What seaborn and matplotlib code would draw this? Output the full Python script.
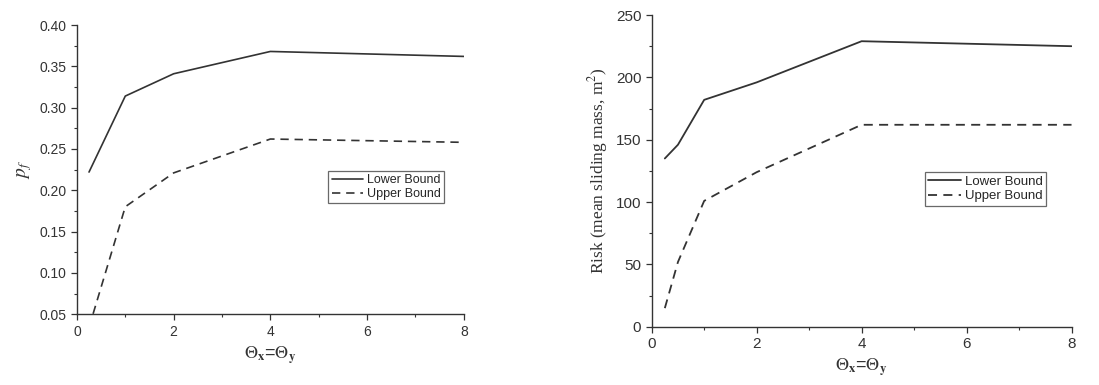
import matplotlib.pyplot as plt
import pandas as pd
import seaborn as sns
from matplotlib.ticker import MultipleLocator

# left panel: probability of failure
pf_x = [0.25, 1, 2, 4, 8]
pf_lower = [0.222, 0.314, 0.341, 0.368, 0.362]
pf_upper_x = [0.25, 1, 2, 4, 8]
pf_upper = [0.034, 0.180, 0.221, 0.262, 0.258]

# right panel: risk (mean sliding mass)
risk_x = [0.25, 0.5, 1, 2, 4, 8]
risk_lower = [135, 146, 182, 196, 229, 225]
risk_upper = [15, 52, 101, 124, 162, 162]

labels = ["Lower Bound", "Upper Bound"]

sns.set_theme(style="ticks")
plt.rcParams.update(
    {
        "font.family": ["Liberation Sans", "DejaVu Sans"],
        "mathtext.fontset": "stix",
        "axes.edgecolor": "#333333",
        "xtick.color": "#333333",
        "ytick.color": "#333333",
        "axes.linewidth": 1.0,
    }
)


def long_frame(x_lo, y_lo, x_up, y_up):
    return pd.DataFrame(
        {
            "x": list(x_lo) + list(x_up),
            "y": list(y_lo) + list(y_up),
            "bound": [labels[0]] * len(x_lo) + [labels[1]] * len(x_up),
        }
    )


def style_axes(ax, xlabel, ylabel, ylabel_kw, tick_size, leg_size):
    sns.despine(ax=ax)
    ax.set_xlim(0, 8)
    ax.xaxis.set_major_locator(MultipleLocator(2))
    ax.xaxis.set_minor_locator(MultipleLocator(1))
    ax.tick_params(which="major", length=4, width=0.9, labelsize=tick_size)
    ax.tick_params(which="minor", length=2.5, width=0.8)
    ax.set_xlabel(xlabel, fontsize=13, color="#333333")
    ax.set_ylabel(ylabel, color="#333333", **ylabel_kw)
    leg = ax.legend(
        loc="upper left",
        bbox_to_anchor=(0.65, 0.495),
        fontsize=leg_size,
        frameon=True,
        fancybox=False,
        edgecolor="#444444",
        borderpad=0.25,
        handlelength=2.5,
        handletextpad=0.3,
        labelspacing=0.15,
        borderaxespad=0,
    )
    leg.get_frame().set_linewidth(0.9)


fig = plt.figure(figsize=(10.99, 3.85), dpi=100)
ax1 = fig.add_axes([0.070, 0.184, 0.352, 0.751])
ax2 = fig.add_axes([0.593, 0.151, 0.382, 0.810])

dash_map = {labels[0]: "", labels[1]: (5, 3.5)}
theta_label = r"$\Theta_\mathbf{x}$=$\Theta_\mathbf{y}$"

df1 = long_frame(pf_x, pf_lower, pf_upper_x, pf_upper)
sns.lineplot(
    data=df1, x="x", y="y", style="bound", color="#333333",
    dashes=dash_map, linewidth=1.2, ax=ax1,
)
ax1.set_ylim(0.05, 0.40)
ax1.yaxis.set_major_locator(MultipleLocator(0.05))
ax1.yaxis.set_minor_locator(MultipleLocator(0.025))
ax1.yaxis.set_major_formatter(lambda v, p: f"{v:.2f}")
style_axes(ax1, theta_label, r"$p_f$", {"fontsize": 14}, 10, 9)

df2 = long_frame(risk_x, risk_lower, risk_x, risk_upper)
sns.lineplot(
    data=df2, x="x", y="y", style="bound", color="#333333",
    dashes=dash_map, linewidth=1.3, ax=ax2,
)
ax2.set_ylim(0, 250)
ax2.yaxis.set_major_locator(MultipleLocator(50))
ax2.yaxis.set_minor_locator(MultipleLocator(25))
style_axes(ax2, theta_label, r"Risk (mean sliding mass, m$^2$)",
           {"family": "Liberation Serif", "fontsize": 12.5}, 11, 9.5)

fig.savefig("out.png", dpi=100, facecolor="white")
